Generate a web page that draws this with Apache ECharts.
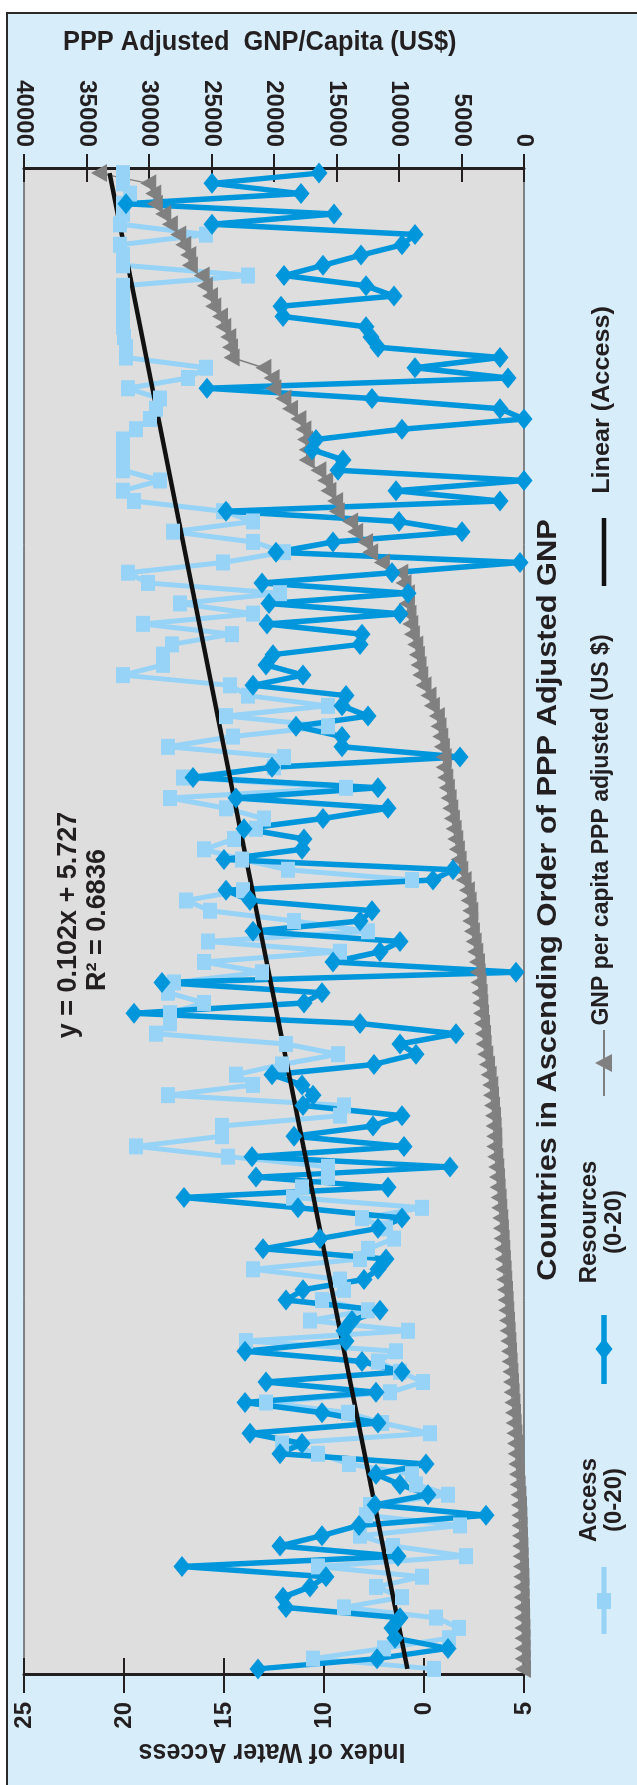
<!DOCTYPE html>
<html>
<head>
<meta charset="utf-8">
<script src="https://cdn.jsdelivr.net/npm/echarts@6/dist/echarts.min.js"></script>
<style>
html, body { margin: 0; padding: 0; background: #fff; }
#chart { width: 637px; height: 1785px; }
</style>
</head>
<body>
<div id="chart"></div>
<script>
// countries ranked by PPP adjusted GNP, poorest first (bottom of the plot)
var countries = [];
for (var n = 1; n <= 147; n++) countries.push(n);

// Access (0-20)
var access = [
  4.5, 10.55, 7.0, 3.75, 3.25, 4.4, 9.0, 6.1, 7.4, 5.1,
  10.3, 2.9, 6.55, 8.2, 3.2, 7.9, 7.7, 3.8, 5.4, 5.6,
  8.75, 10.3, 12.1, 4.7, 7.1, 8.8, 12.9, 6.7, 5.05, 6.2,
  7.3, 6.4, 13.9, 5.8, 10.7, 7.8, 10.1, 9.0, 9.2, 13.55,
  8.2, 7.8, 6.5, 6.9, 8.1, 5.1, 11.55, 11.1, 9.8, 9.8,
  14.8, 19.4, 15.1, 15.1, 9.2, 9.0, 17.8, 13.55, 14.4, 12.1,
  9.3, 11.9, 18.4, 17.7, 17.7, 16.0, 17.8, 17.5, 13.1, 16.0,
  9.2, 15.8, 7.8, 11.5, 15.7, 16.9, 14.05, 5.6, 11.8, 14.1,
  16.0, 14.5, 13.4, 13.0, 14.9, 17.7, 8.9, 17.05, 12.5, 12.0,
  17.8, 14.55, 9.8, 14.9, 9.8, 13.8, 14.7, 20.05, 18.05, 18.05,
  17.6, 14.6, 19.05, 13.55, 17.2, 12.2, 18.8, 19.8, 15.05, 12.0,
  13.55, 17.55, 13.55, 15.05, 19.5, 20.05, 18.2, 20.05, 20.05, 20.05,
  20.05, 19.4, 18.7, 18.4, 18.2, 19.8, 16.8, 15.9, 19.9, 19.9,
  20.0, 20.05, 20.05, 20.05, 20.05, 20.05, 13.8, 20.05, 20.05, 20.2,
  15.9, 20.2, 20.05, 20.05, 19.7, 20.05, 20.05
];

// Resources (0-20)
var resources = [
  13.3, 7.35, 3.8, 6.45, 6.6, 6.2, 11.9, 12.05, 10.7, 9.9,
  17.1, 6.3, 12.2, 10.1, 8.25, 1.9, 7.45, 4.8, 6.2, 7.4,
  4.9, 12.2, 11.1, 13.7, 7.3, 10.1, 13.95, 7.4, 12.9, 6.1,
  8.1, 13.95, 8.9, 9.0, 8.6, 7.2, 11.9, 11.05, 8.0, 7.3,
  6.9, 13.05, 10.2, 7.3, 6.1, 11.3, 17.0, 6.8, 13.4, 3.7,
  13.6, 6.0, 11.5, 7.55, 6.1, 11.05, 10.55, 11.1, 12.6, 7.5,
  5.4, 6.2, 3.4, 8.2, 19.5, 11.0, 10.1, 18.1, 0.4, 9.55,
  7.2, 6.2, 13.55, 8.2, 7.6, 13.7, 14.9, 4.55, 3.55, 15.0,
  11.1, 11.0, 14.0, 10.05, 6.8, 14.4, 7.3, 16.55, 12.6, 3.2,
  9.1, 9.1, 11.4, 7.8, 9.1, 8.9, 13.55, 11.05, 12.9, 12.55,
  8.2, 8.1, 12.85, 6.2, 12.75, 5.8, 13.1, 6.6, 0.2, 12.4,
  9.55, 3.1, 6.25, 14.9, 1.2, 6.4, 0.0, 9.3, 9.05, 10.6,
  10.4, 6.1, 0.0, 1.2, 7.6, 15.85, 0.8, 5.45, 1.2, 7.3,
  7.65, 7.9, 12.05, 12.15, 6.5, 7.9, 12.0, 10.05, 8.15, 6.1,
  5.45, 15.6, 9.5, 19.9, 11.15, 15.6, 10.25
];

// GNP per capita PPP adjusted (US $)
var gnp = [
  80, 100, 110, 120, 130, 150, 160, 190, 210, 210,
  240, 270, 290, 320, 350, 370, 400, 450, 510, 560,
  610, 670, 720, 770, 830, 880, 930, 990, 1040, 1090,
  1150, 1200, 1250, 1310, 1360, 1420, 1470, 1520, 1580, 1630,
  1690, 1740, 1790, 1850, 1900, 1980, 2030, 2110, 2160, 2220,
  2300, 2380, 2380, 2430, 2480, 2560, 2640, 2700, 2830, 2960,
  3100, 3230, 3280, 3360, 3440, 3500, 3550, 3630, 3710, 3760,
  3900, 4030, 4170, 4300, 4300, 4430, 4570, 4830, 5100, 5230,
  5370, 5500, 5630, 5770, 5900, 6030, 6170, 6300, 6430, 6430,
  6570, 6700, 6840, 6970, 7370, 7640, 8040, 8300, 8440, 8570,
  8700, 8970, 9100, 9240, 9370, 9370, 9640, 9900, 11370, 12310,
  12710, 13510, 13910, 14980, 15110, 15650, 15910, 16450, 17380, 17380,
  17520, 17650, 18050, 18720, 19250, 20050, 20190, 20850, 23390, 23520,
  23660, 24060, 24320, 24860, 25120, 25530, 25790, 26730, 26860, 27260,
  27660, 28330, 28860, 29530, 29660, 30060, 34000
];

// Linear (Access) trend as printed on the chart
var trendSlope = 0.102;
var trendIntercept = 5.727;

// tick labels as printed on the index axis
var indexTickValues = [0, 5, 10, 15, 20, 25];
var indexTickLabels = ['5', '0', '10', '15', '20', '25'];

var chart = echarts.init(document.getElementById('chart'));

var blueDark = '#0096dc';
var blueLight = '#96d3f6';
var grey = '#808080';
var ink = '#231f20';
var font = '"Liberation Sans", Arial, sans-serif';

// text reading bottom-to-top, like the rest of the turned chart
function vText(x, y, text, size, lh, stretch) {
    return {
        type: 'text', x: x, y: y, rotation: Math.PI / 2, scaleX: stretch || 1, silent: true,
        style: {
            text: text, fill: ink, font: 'bold ' + size + 'px ' + font,
            align: 'center', verticalAlign: 'middle',
            textAlign: 'center', textVerticalAlign: 'middle',
            lineHeight: lh || size
        }
    };
}

var trendData = [
    [trendIntercept + trendSlope * 1, 0],
    [trendIntercept + trendSlope * countries.length, countries.length - 1]
];

var option = {
    backgroundColor: '#ffffff',
    animation: false,
    grid: {
        left: 24, top: 168, width: 500, height: 1506,
        show: true, backgroundColor: '#dedede',
        borderColor: ink, borderWidth: 1
    },
    xAxis: [
        {
            type: 'value', position: 'bottom', min: 0, max: 25, interval: 5, inverse: true,
            axisLine: { show: true, lineStyle: { color: ink, width: 3 } },
            axisTick: { show: true, length: 19, lineStyle: { color: ink, width: 2 } },
            splitLine: { show: false },
            axisLabel: {
                rotate: 90, margin: 28, color: ink,
                fontFamily: font, fontWeight: 'bold', fontSize: 24,
                formatter: function (v) {
                    var k = indexTickValues.indexOf(v);
                    return k < 0 ? '' : indexTickLabels[k];
                }
            }
        },
        {
            type: 'value', position: 'top', min: 0, max: 40000, interval: 5000, inverse: true,
            axisLine: { show: true, lineStyle: { color: ink, width: 3 } },
            axisTick: { show: true, length: 14, lineStyle: { color: ink, width: 2 } },
            splitLine: { show: false },
            axisLabel: {
                rotate: 90, margin: 21, color: ink,
                fontFamily: font, fontWeight: 'bold', fontSize: 24,
                formatter: function (v) { return String(v); }
            }
        },
        {
            // inner half of the crossing ticks
            type: 'value', position: 'bottom', min: 0, max: 25, interval: 5, inverse: true,
            axisLine: { show: false },
            axisTick: { show: true, inside: true, length: 16, lineStyle: { color: ink, width: 2 } },
            axisLabel: { show: false }, splitLine: { show: false }
        },
        {
            type: 'value', position: 'top', min: 0, max: 40000, interval: 5000, inverse: true,
            axisLine: { show: false },
            axisTick: { show: true, inside: true, length: 14, lineStyle: { color: ink, width: 2 } },
            axisLabel: { show: false }, splitLine: { show: false }
        }
    ],
    yAxis: {
        type: 'category', data: countries, boundaryGap: true,
        axisLine: { show: false, onZero: false },
        axisTick: { show: false }, axisLabel: { show: false }, splitLine: { show: false }
    },
    series: [
        {
            name: 'GNP per capita PPP adjusted (US $)', type: 'line', xAxisIndex: 1,
            data: gnp, showAllSymbol: true,
            symbol: 'triangle', symbolSize: [18, 16], symbolRotate: 90,
            lineStyle: { color: grey, width: 1.5 },
            itemStyle: { color: grey }
        },
        {
            name: 'Access (0-20)', type: 'line', xAxisIndex: 0,
            data: access, showAllSymbol: true,
            symbol: 'rect', symbolSize: [14, 16],
            lineStyle: { color: blueLight, width: 5 },
            itemStyle: { color: blueLight }
        },
        {
            name: 'Resources (0-20)', type: 'line', xAxisIndex: 0,
            data: resources, showAllSymbol: true,
            symbol: 'diamond', symbolSize: [17, 21],
            lineStyle: { color: blueDark, width: 5.5 },
            itemStyle: { color: blueDark }
        },
        {
            name: 'Linear (Access)', type: 'line', xAxisIndex: 0,
            data: trendData, symbol: 'none',
            lineStyle: { color: '#111', width: 4.5 }
        }
    ],
    graphic: [
        {
            type: 'rect', z: -10, silent: true,
            shape: { x: 7, y: 13, width: 640, height: 1790 },
            style: { fill: '#d7edf9', stroke: '#2b2b2b', lineWidth: 2 }
        },
        {
            type: 'text', x: 63, y: 43, scaleX: 0.94, silent: true,
            style: {
                text: 'PPP Adjusted  GNP/Capita (US$)', fill: ink,
                font: 'bold 27px ' + font, align: 'left', verticalAlign: 'middle',
                textAlign: 'left', textVerticalAlign: 'middle'
            }
        },
        {
            type: 'text', x: 272, y: 1751, rotation: Math.PI, scaleX: 0.93, silent: true,
            style: {
                text: 'Index of Water Access', fill: ink,
                font: 'bold 27px ' + font, align: 'center', verticalAlign: 'middle',
                textAlign: 'center', textVerticalAlign: 'middle'
            }
        },
        vText(69, 925, 'y = 0.102x + 5.727', 27),
        vText(98, 920, 'R\u00b2 = 0.6836', 27),
        vText(548, 900, 'Countries in Ascending Order of PPP Adjusted GNP', 28, 28, 1.1),
        // legend
        { type: 'line', silent: true, shape: { x1: 604, y1: 1567, x2: 604, y2: 1634 }, style: { stroke: blueLight, lineWidth: 5 } },
        { type: 'rect', silent: true, shape: { x: 597, y: 1593, width: 14, height: 16 }, style: { fill: blueLight } },
        vText(602, 1500, 'Access\n(0-20)', 24, 25),
        { type: 'line', silent: true, shape: { x1: 604, y1: 1315, x2: 604, y2: 1384 }, style: { stroke: blueDark, lineWidth: 5.5 } },
        { type: 'polygon', silent: true, shape: { points: [[604, 1338], [612.5, 1349], [604, 1360], [595.5, 1349]] }, style: { fill: blueDark } },
        vText(602, 1222, 'Resources\n(0-20)', 24, 25),
        { type: 'line', silent: true, shape: { x1: 604, y1: 1030, x2: 604, y2: 1096 }, style: { stroke: grey, lineWidth: 2 } },
        { type: 'polygon', silent: true, shape: { points: [[595, 1063], [612, 1054], [612, 1072]] }, style: { fill: grey } },
        vText(602, 830, 'GNP per capita PPP adjusted (US $)', 23),
        { type: 'line', silent: true, shape: { x1: 604, y1: 518, x2: 604, y2: 586 }, style: { stroke: '#111', lineWidth: 4.5 } },
        vText(602, 400, 'Linear (Access)', 24, 24, 1.05)
    ]
};

chart.setOption(option);
</script>
</body>
</html>
